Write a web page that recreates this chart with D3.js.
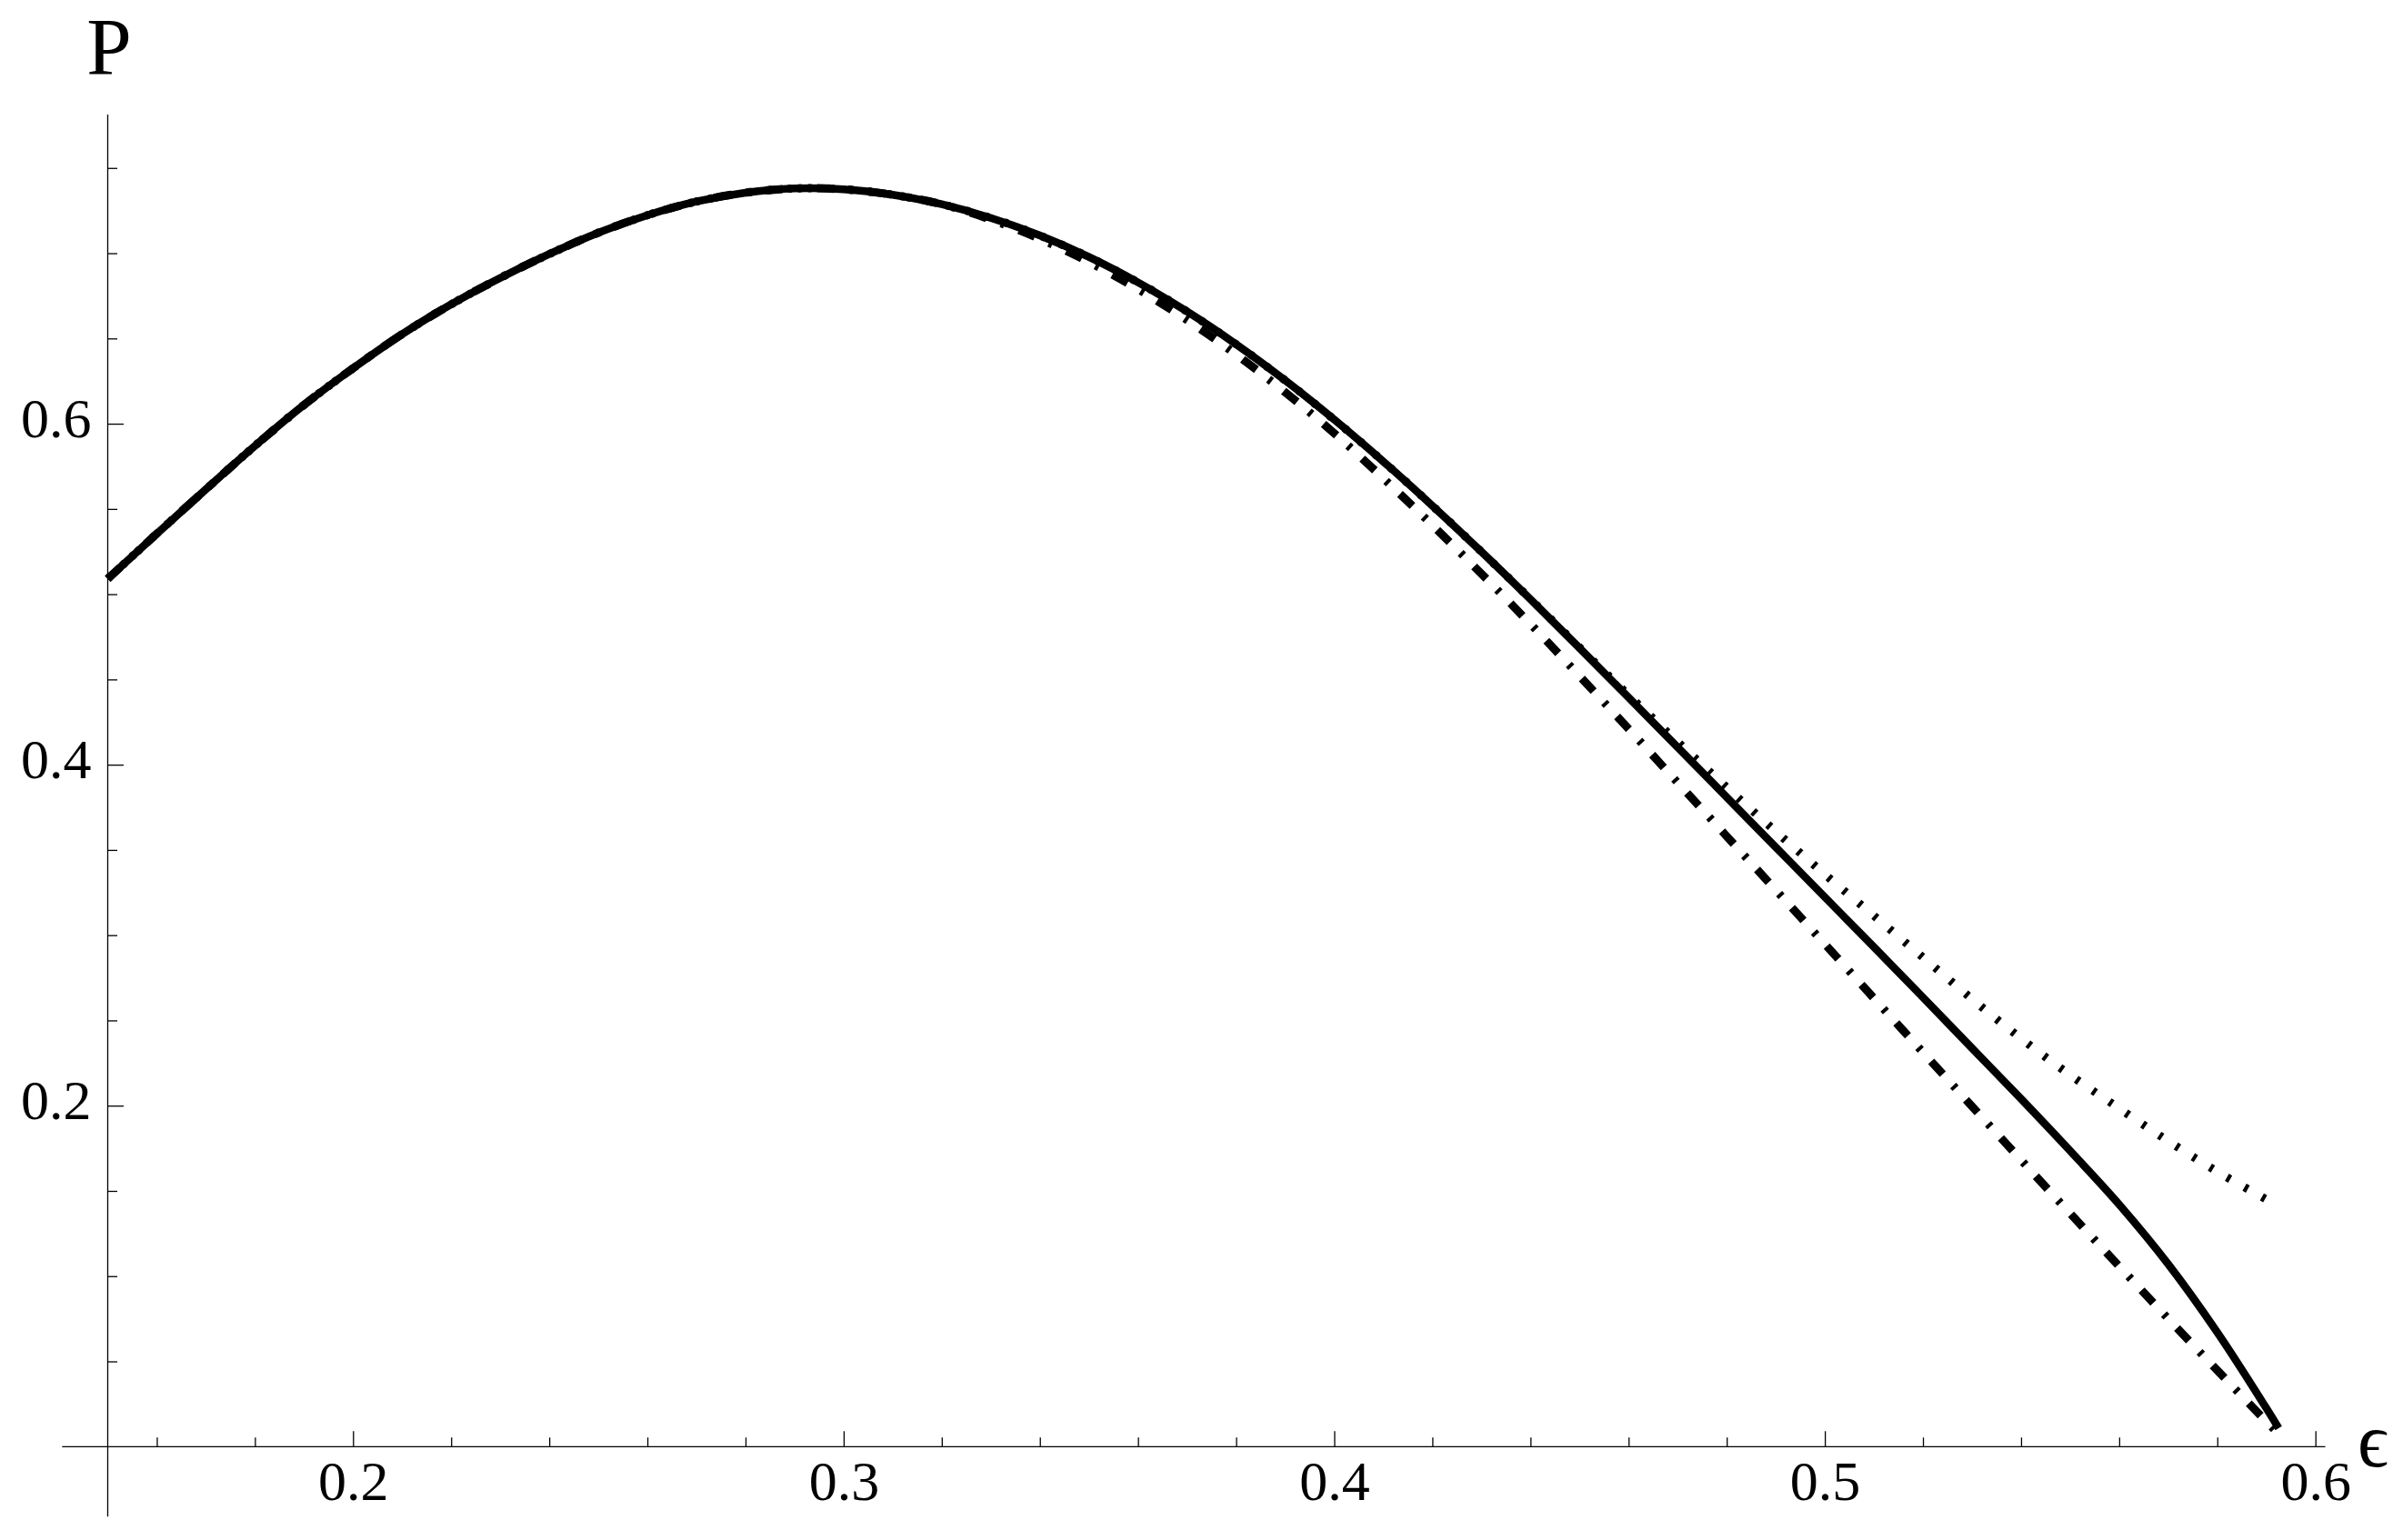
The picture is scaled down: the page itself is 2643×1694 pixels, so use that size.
<!DOCTYPE html>
<html><head><meta charset="utf-8">
<script src="https://cdn.jsdelivr.net/npm/d3@7"></script>
<style>html,body{margin:0;padding:0;background:#fff} svg{display:block} svg text{font-family:'Liberation Serif','Times New Roman',Times,serif;}</style>
</head><body>
<script>
// ---- data ----
const eps = [0.15,0.16,0.17,0.18,0.19,0.20,0.21,0.22,0.23,0.24,0.25,0.26,0.27,0.28,0.29,0.30,
  0.31,0.32,0.33,0.34,0.35,0.36,0.37,0.38,0.39,0.40,0.41,0.42,0.43,0.44,0.45,0.46,0.47,0.48,
  0.49,0.50,0.51,0.52,0.53,0.54,0.55,0.56,0.57,0.58,0.59,0.5925];
const solidP = [0.509,0.5355,0.5615,0.587,0.611,0.6325,0.6525,0.670,0.6855,0.6995,0.712,0.7223,
  0.7303,0.7355,0.738,0.7375,0.7343,0.7287,0.7207,0.7104,0.6978,0.6829,0.6658,0.6466,0.6254,0.6024,
  0.5778,0.5519,0.5249,0.4970,0.4684,0.4394,0.4102,0.3809,0.3516,0.3223,0.2930,0.2635,0.2337,0.2040,
  0.1735,0.1420,0.1070,0.0670,0.0225,0.0108];
const dottedP = [0.509,0.5355,0.5615,0.587,0.611,0.6325,0.6525,0.670,0.6855,0.6995,0.712,0.7223,
  0.7303,0.7355,0.738,0.7375,0.7343,0.7287,0.7207,0.7104,0.6978,0.6829,0.6658,0.6466,0.6254,0.6024,
  0.5778,0.5519,0.5249,0.4972,0.4688,0.4408,0.4134,0.3867,0.3608,0.3357,0.3114,0.2870,0.2626,0.2394,
  0.2180,0.1984,0.1792,0.1613,0.1450,0.1410];
const dashDotP = [0.509,0.5355,0.5615,0.587,0.611,0.6325,0.6525,0.670,0.6855,0.6995,0.712,0.7223,
  0.7303,0.7355,0.738,0.7375,0.7343,0.7287,0.7197,0.7084,0.6948,0.6789,0.6608,0.6406,0.6184,0.5944,
  0.5680,0.5405,0.5120,0.4825,0.4520,0.4210,0.3895,0.3580,0.3265,0.2948,0.2630,0.2313,0.1996,0.1681,
  0.1368,0.1058,0.0750,0.0447,0.0148,0.0075];
const xMajorTicks = [0.2,0.3,0.4,0.5,0.6];
const xTickLabels = ["0.2","0.3","0.4","0.5","0.6"];
const xMinorTicks = [0.16,0.18,0.22,0.24,0.26,0.28,0.32,0.34,0.36,0.38,0.42,0.44,0.46,0.48,0.52,0.54,0.56,0.58];
const yMajorTicks = [0.2,0.4,0.6];
const yTickLabels = ["0.2","0.4","0.6"];
const yMinorTicks = [0.05,0.1,0.15,0.25,0.3,0.35,0.45,0.5,0.55,0.65,0.7,0.75];
const xLabel = "\u03F5";
const yLabel = "P";

// ---- layout ----
const W = 2643, H = 1694;
const svg = d3.select("body").append("svg").attr("width", W).attr("height", H);
const x = d3.scaleLinear().domain([0.15, 0.6]).range([118.5, 2546.7]);
const y = d3.scaleLinear().domain([0, 0.8]).range([1591.3, 91]);
const serif = "'Liberation Serif','Times New Roman',Times,serif";
const axisX = x(0.15), axisY = y(0);

// axis lines
svg.append("line").attr("x1", x(0.1407)).attr("x2", x(0.602)).attr("y1", axisY).attr("y2", axisY)
  .attr("stroke", "#000").attr("stroke-width", 1.3);
svg.append("line").attr("x1", axisX).attr("x2", axisX).attr("y1", y(0.7813)).attr("y2", y(-0.041))
  .attr("stroke", "#000").attr("stroke-width", 1.3);

// x ticks
const gx = svg.append("g").attr("transform", `translate(0,${axisY})`);
gx.append("g").call(d3.axisBottom(x).tickValues(xMinorTicks).tickSize(-10).tickFormat(""));
gx.append("g").call(d3.axisBottom(x).tickValues(xMajorTicks).tickSize(-17)
  .tickFormat((d, i) => xTickLabels[i]));
gx.selectAll("g").attr("font-family", null);
gx.selectAll(".domain").remove();
gx.selectAll(".tick line").attr("stroke", "#000").attr("stroke-width", 1.3);
gx.selectAll(".tick text").attr("y", 59).attr("dy", 0).attr("fill", "#000")
  .style("font-family", serif).attr("font-size", 62);

// y ticks
const gy = svg.append("g").attr("transform", `translate(${axisX},0)`);
gy.append("g").call(d3.axisLeft(y).tickValues(yMinorTicks).tickSize(-10.5).tickFormat(""));
gy.append("g").call(d3.axisLeft(y).tickValues(yMajorTicks).tickSize(-17.5)
  .tickFormat((d, i) => yTickLabels[i]));
gy.selectAll("g").attr("font-family", null);
gy.selectAll(".domain").remove();
gy.selectAll(".tick line").attr("stroke", "#000").attr("stroke-width", 1.3);
gy.selectAll(".tick text").attr("x", -18).attr("dy", 14).attr("text-anchor", "end").attr("fill", "#000")
  .style("font-family", serif).attr("font-size", 62);

// axis labels
svg.append("text").attr("x", 120).attr("y", 80.7).attr("text-anchor", "middle")
  .style("font-family", serif).attr("font-size", 89).attr("fill", "#000").text(yLabel);
svg.append("text").attr("x", 2593).attr("y", 1613)
  .style("font-family", serif).attr("font-size", 84).attr("fill", "#000").text(xLabel);

// curves
const line = d3.line().x(d => x(d[0])).y(d => y(d[1])).curve(d3.curveCatmullRom.alpha(0.5));
const series = [
  {vals: dottedP, width: 9, dash: "4,18"},
  {vals: dashDotP, width: 9, dash: "19,17,4,17"},
  {vals: solidP, width: 8.5, dash: null}
];
series.forEach(s => {
  const pts = eps.map((e, i) => [e, s.vals[i]]);
  svg.append("path").attr("d", line(pts)).attr("fill", "none").attr("stroke", "#000")
    .attr("stroke-width", s.width).attr("stroke-linecap", "butt").attr("stroke-linejoin", "round")
    .attr("stroke-dasharray", s.dash);
});
</script>
</body></html>
